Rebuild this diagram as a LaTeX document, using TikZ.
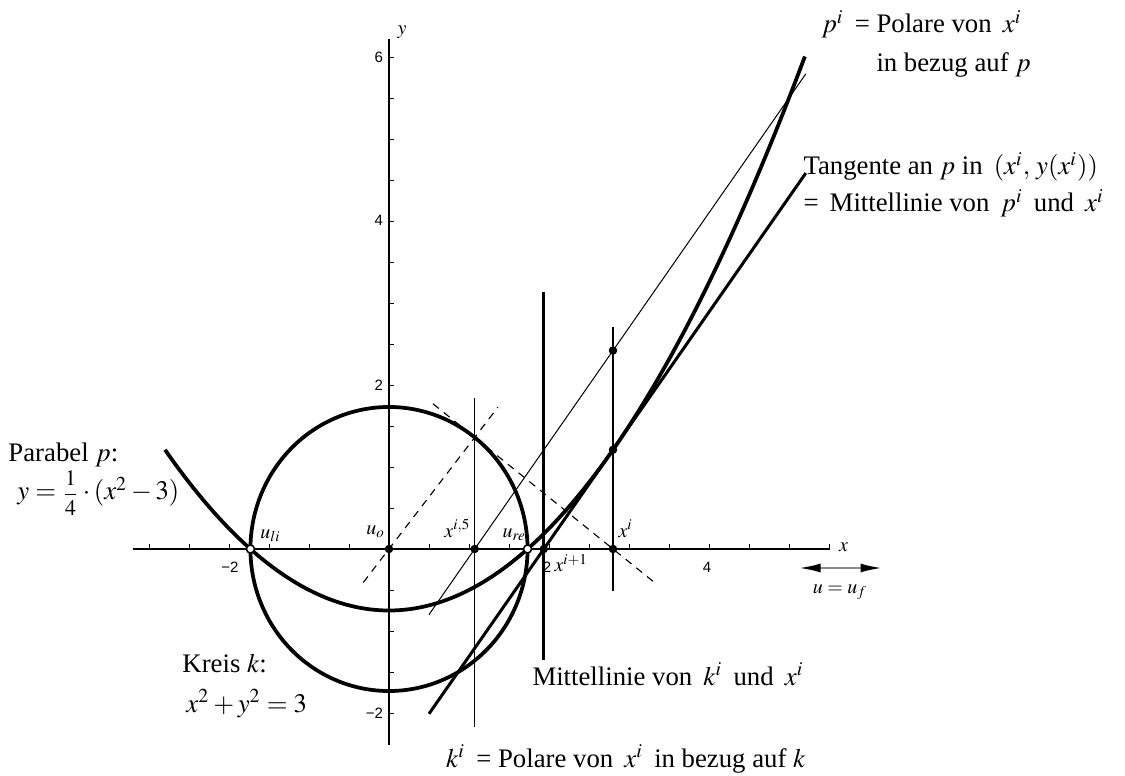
\documentclass[tikz,border=0pt]{standalone}
\usepackage{amsmath}
\usepackage{mathptmx}
\usepackage[no-math]{fontspec}
\setmainfont{Liberation Serif}
\setsansfont{Liberation Sans}
\usetikzlibrary{arrows.meta, positioning}

\begin{document}
\begin{tikzpicture}[x=32pt, y=32.8pt,
  curve/.style={line width=1.5pt},
  fineline/.style={line width=0.4pt},
  axis/.style={line width=0.5pt},
  guide/.style={line width=0.45pt, dash pattern=on 3pt off 2.5pt},
  dot/.style={circle, fill, inner sep=0pt, minimum size=3.4pt},
  hollow/.style={circle, draw, fill=white, inner sep=0pt, minimum size=3.2pt, line width=0.6pt},
  lbl/.style={font=\fontsize{8}{9}\selectfont, inner sep=0pt},
  num/.style={font=\sffamily\fontsize{6}{7}\selectfont, inner sep=0pt},
  txt/.style={font=\fontsize{10.7}{12.5}\selectfont, inner sep=0pt, anchor=base west}]
  \useasboundingbox (-4.8625,-2.7683) rectangle (9.2,6.6951);

  % axes and ticks
  \coordinate (xleft) at (-3.2,0);
  \coordinate (xright) at (5.51,0);
  \coordinate (ybottom) at (0,-2.39);
  \coordinate (ytop) at (0,6.22);
  \draw[axis] (xleft) -- (xright);
  \draw[axis] (ybottom) -- (ytop);
  \foreach \t in {-3,-2.5,...,5.6} \draw[line width=0.3pt] (\t,0) -- (\t,0.06);
  \foreach \t in {-2,-1.5,...,6.1} \draw[line width=0.3pt] (0,\t) -- (0.065,\t);

  \node[num] (tm2) at (-1.9875,-0.2195) {−2};
  \node[num] (t2) at (1.975,-0.2195) {2};
  \node[num] (t4) at (3.975,-0.2195) {4};
  \node[num, anchor=east] (ty6) at (-0.07,6.0) {6};
  \node[num, anchor=east] (ty4) at (-0.07,4.01) {4};
  \node[num, anchor=east] (ty2) at (-0.07,2.0) {2};
  \node[num, anchor=east] (tym2) at (-0.07,-2.0) {−2};
  \node[lbl, anchor=base west] (xlabel) at (5.62,-0.03) {$x$};
  \node[lbl, anchor=base west] (ylabel) at (0.1,6.27) {$y$};

  % points
  \coordinate (uo) at (0,0);
  \coordinate (uli) at (-1.7321,0);
  \coordinate (ure) at (1.7321,0);
  \coordinate (xhalf) at (1.0714,0);
  \coordinate (xnext) at (1.9357,0);
  \coordinate (xi) at (2.8,0);
  \coordinate (onp) at (2.8,1.21);
  \coordinate (onpol) at (2.8,2.42);
  \coordinate (touch) at (1.0714,1.3607);

  % parabola and circle
  \draw[curve] plot[domain=-2.8:5.2, samples=120, smooth] (\x,{(\x*\x-3)/4});
  \draw[curve] plot[domain=0:360, samples=120, smooth] ({1.7321*cos(\x)},{1.7321*sin(\x)}) -- cycle;

  % polar p^i and tangent
  \coordinate (pola) at (0.5,-0.8);
  \coordinate (polb) at (5.21,5.794);
  \coordinate (tana) at (0.5,-2.01);
  \coordinate (tanb) at (5.21,4.584);
  \draw[fineline] (pola) -- (polb);
  \draw[line width=1.2pt] (tana) -- (tanb);

  % vertical lines
  \coordinate (kia) at (1.0714,1.84);
  \coordinate (kib) at (1.0714,-2.17);
  \coordinate (mida) at (1.9357,3.134);
  \coordinate (midb) at (1.9357,-1.354);
  \coordinate (xia) at (2.8,2.707);
  \coordinate (xib) at (2.8,-0.512);
  \draw[fineline] (kia) -- (kib);
  \draw[line width=1.1pt] (mida) -- (midb);
  \draw[line width=0.5pt] (xia) -- (xib);

  % dashed radius and tangent to k
  \coordinate (rada) at (-0.3214,-0.4082);
  \coordinate (radb) at (1.3607,1.7281);
  \coordinate (tka) at (0.55,1.771);
  \coordinate (tkb) at (3.33,-0.4172);
  \draw[guide] (rada) -- (radb);
  \draw[guide] (tka) -- (tkb);

  % marks
  \node[dot] (muo) at (uo) {};
  \node[dot] (mxhalf) at (xhalf) {};
  \node[dot] (mxnext) at (xnext) {};
  \node[dot] (mxi) at (xi) {};
  \node[dot] (monp) at (onp) {};
  \node[dot] (monpol) at (onpol) {};
  \node[hollow] (muli) at (uli) {};
  \node[hollow] (mure) at (ure) {};

  \node[lbl, anchor=base west] (luli) at (-1.6125,0.134) {$u_{li}$};
  \node[lbl, anchor=base west] (luo) at (-0.2875,0.171) {$u_o$};
  \node[lbl, anchor=base west] (lxhalf) at (0.6875,0.146) {$x^{i,5}$};
  \node[lbl, anchor=base west] (lure) at (1.4125,0.146) {$u_{re}$};
  \node[lbl, anchor=base west] (lxnext) at (2.0625,-0.28) {$x^{i+1}$};
  \node[lbl, anchor=base west] (lxi) at (2.8625,0.146) {$x^i$};

  % direction arrow
  \coordinate (dira) at (5.1125,-0.2317);
  \coordinate (dirb) at (6.175,-0.2317);
  \draw[line width=1.1pt, black!45, {Latex[length=9pt,width=3.6pt,black]}-{Latex[length=9pt,width=3.6pt,black]}] (dira) -- (dirb);
  \node[lbl, anchor=base] (luf) at (5.6375,-0.537) {$u=u_f$};

  % texts
  \node[txt] (parabel) at (-4.7625,1.073) {Parabel $p$:};
  \node[txt] (pareq) at (-4.65,0.598) {$y=\text{\fontsize{8.8}{9}\selectfont$\dfrac{1}{4}$}\cdot(x^2-3)$};
  \node[txt] (kreis) at (-2.5875,-1.512) {Kreis $k$:};
  \node[txt] (kreiseq) at (-2.5375,-1.988) {$x^2+y^2=3$};
  \node[txt] (midk) at (1.7875,-1.659) {Mittellinie von\, $k^i$\, und\, $x^i$};
  \node[txt, anchor=base east] (polk) at (5.2125,-2.659) {$k^i$\, = Polare von\, $x^i$\, in bezug auf $k$};
  \node[txt] (polp) at (5.4,6.293) {$p^i$\, = Polare von\, $x^i$};
  \node[txt] (polp2) at (6.0875,5.829) {in bezug auf $p$};
  \node[txt] (tang) at (5.175,4.561) {Tangente an $p$ in\, $(x^i,\,y(x^i))$};
  \node[txt] (tang2) at (5.175,4.11) {=\, Mittellinie von\, $p^i$\, und\, $x^i$};
\end{tikzpicture}
\end{document}
